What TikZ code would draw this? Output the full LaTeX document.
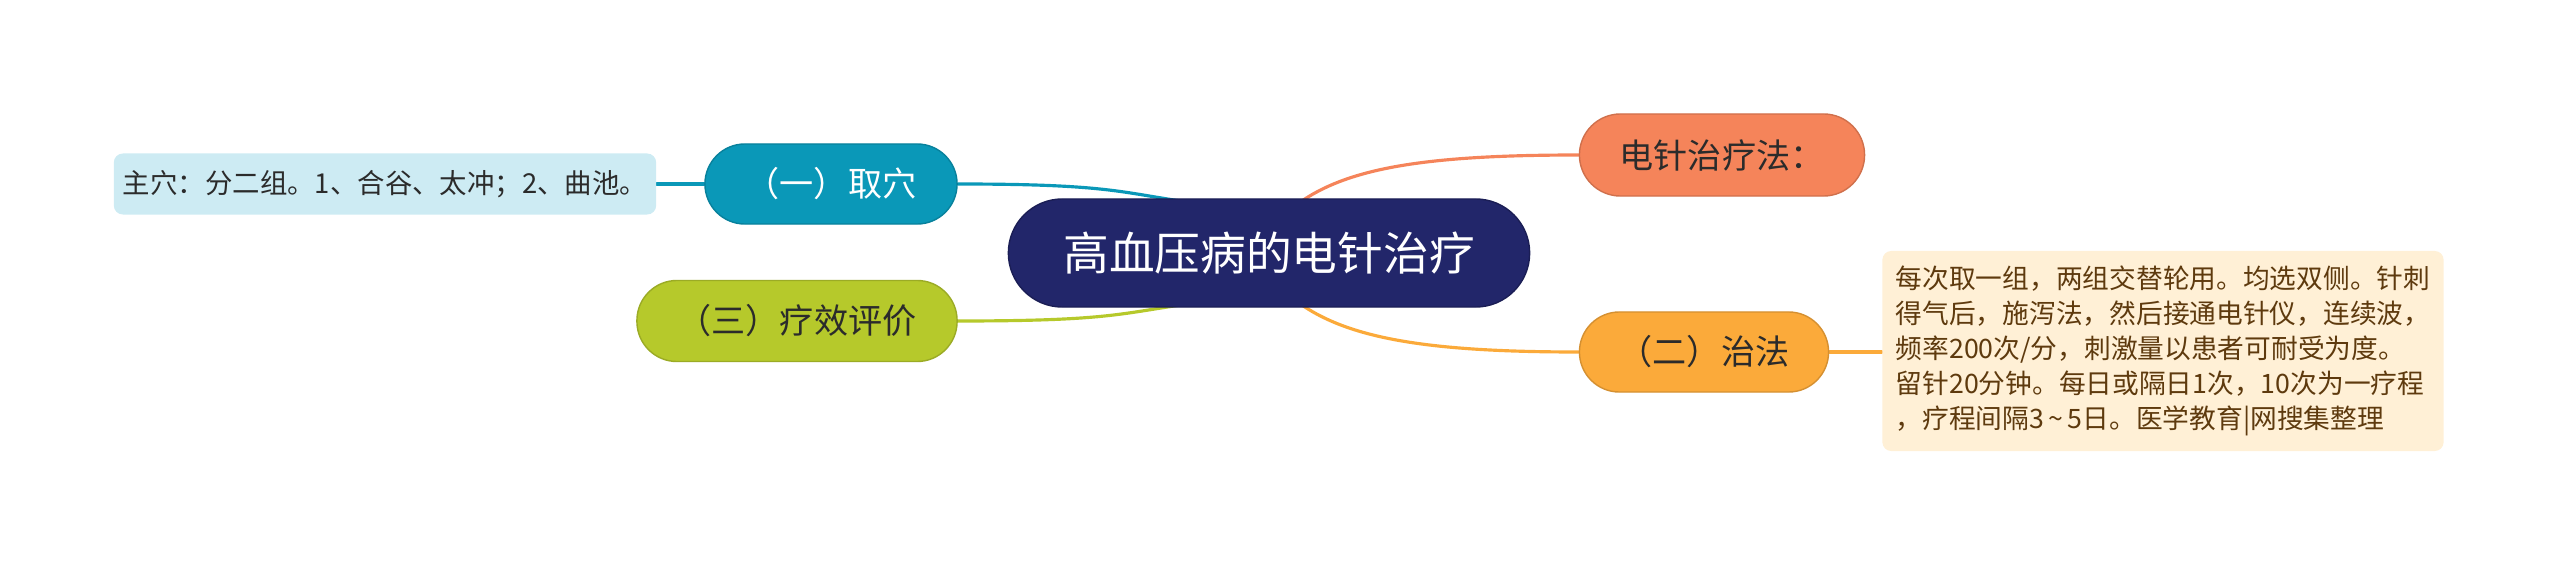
\documentclass[tikz,border=0pt]{standalone}
\usepackage{fontspec}
\newfontfamily\cjk{Noto Sans CJK SC}
\usetikzlibrary{calc,backgrounds}
\definecolor{navy}{HTML}{22266A}
\definecolor{teal}{HTML}{0A98B8}
\definecolor{lime}{HTML}{B6C92B}
\definecolor{coral}{HTML}{F5845A}
\definecolor{amber}{HTML}{FBAA3A}
\definecolor{lblue}{HTML}{CDEBF3}
\definecolor{cream}{HTML}{FFF0D6}
\definecolor{brown}{HTML}{5E3A0E}
\definecolor{dtext}{HTML}{2B2B2B}
\tikzset{
  pill/.style={inner sep=0pt, align=center, line width=0.4pt},
  leafbox/.style={draw=none, rounded corners=0.09cm, inner sep=0pt},
  conn/.style={line width=0.9pt, line cap=round},
}
\begin{document}
\begin{tikzpicture}[x=0.01cm,y=-0.01cm]
\useasboundingbox (0,0) rectangle (2560,567);
\node[pill, fill=navy, draw=navy!80!black, text=white, rounded corners=0.54cm, minimum width=5.21cm, minimum height=1.08cm,
  font={\cjk\fontsize{13}{15}\selectfont}] (c) at (1269,253) {高血压病的电针治疗};
\node[pill, fill=teal, draw=teal!85!black, text=white, rounded corners=0.40cm, minimum width=2.52cm, minimum height=0.80cm,
  font={\cjk\fontsize{9.7}{12}\selectfont}] (qx) at (831,184) {（一）取穴};
\node[pill, fill=lime, draw=lime!85!black, text=dtext, rounded corners=0.40cm, minimum width=3.20cm, minimum height=0.81cm,
  font={\cjk\fontsize{9.7}{12}\selectfont}] (lx) at (797,321) {（三）疗效评价};
\node[pill, fill=coral, draw=coral!85!black, text=dtext, rounded corners=0.41cm, minimum width=2.85cm, minimum height=0.82cm,
  font={\cjk\fontsize{9.7}{12}\selectfont}] (dz) at (1722,155) {电针治疗法：};
\node[pill, fill=amber, draw=amber!85!black, text=dtext, rounded corners=0.40cm, minimum width=2.49cm, minimum height=0.80cm,
  font={\cjk\fontsize{9.7}{12}\selectfont}] (zf) at (1704,352) {（二）治法};
\node[leafbox, fill=lblue, text=dtext, minimum width=5.42cm, minimum height=0.61cm,
  font={\cjk\fontsize{7.8}{10}\selectfont}] (ll) at (385,184) {主穴：分二组。1、合谷、太冲；2、曲池。};
\node[leafbox, fill=cream, text=brown, minimum width=5.61cm, minimum height=2.00cm, align=left,
  font={\cjk\fontsize{7.6}{10}\selectfont}] (lr) at (2163,351) {每次取一组，两组交替轮用。均选双侧。针刺\\得气后，施泻法，然后接通电针仪，连续波，\\频率200次/分，刺激量以患者可耐受为度。\\留针20分钟。每日或隔日1次，10次为一疗程\\，疗程间隔3\,\textasciitilde\,5日。医学教育|网搜集整理};
\coordinate (cTL) at ($(c.north)+(-80,4)$);
\coordinate (cTR) at ($(c.north)+(31,4)$);
\coordinate (cBL) at ($(c.south)+(-80,-4)$);
\coordinate (cBR) at ($(c.south)+(31,-4)$);
\begin{pgfonlayer}{background}
\draw[conn, teal] (qx.east) .. controls +(150,0) and +(-70,-10) .. (cTL);
\draw[conn, lime] (lx.east) .. controls +(150,0) and +(-70,10) .. (cBL);
\draw[conn, coral] (cTR) .. controls +(50,-35) and +(-150,0) .. (dz.west);
\draw[conn, amber] (cBR) .. controls +(50,35) and +(-150,0) .. (zf.west);
\draw[conn, teal] (qx.west) -- (ll.east);
\draw[conn, amber] (zf.east) -- (lr.west |- zf.east);
\end{pgfonlayer}
\end{tikzpicture}
\end{document}
